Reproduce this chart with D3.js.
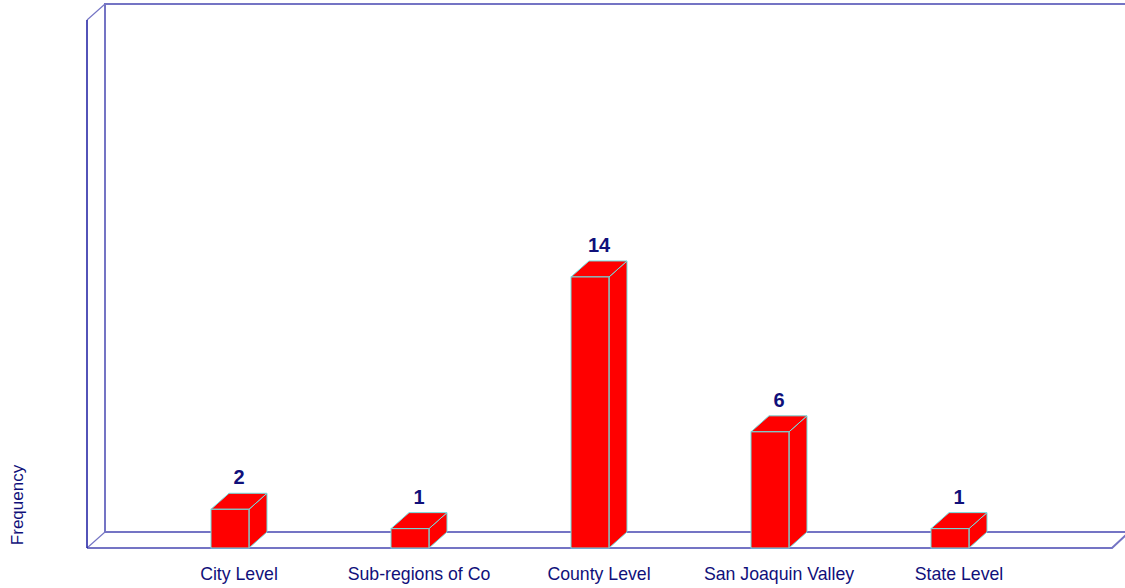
<!DOCTYPE html>
<html><head><meta charset="utf-8">
<script src="https://d3js.org/d3.v7.min.js"></script>
<style>body{margin:0;background:#fff}svg{display:block}</style>
</head><body><svg id="c" width="1125" height="588"></svg>
<script>
const categories = ["City Level","Sub-regions of Co","County Level","San Joaquin Valley","State Level"];
const values = [2,1,14,6,1];
const yLabel = "Frequency";

const svg = d3.select("#c");
const W = 1125, H = 588;
const dx = 18, dy = 16;
const y0 = 548;
const x = d3.scaleBand().domain(categories).range([140,1040]).paddingInner(0).paddingOuter(0);
const y = d3.scaleLinear().domain([0,28]).range([y0, y0 - 28*19.36]);
const bw = 38;
const frameCol = "#7474c4";
const navy = "#10107a";

svg.append("rect").attr("width",W).attr("height",H).attr("fill","#fff");
const g = svg.append("g").attr("fill","none");
g.append("path").attr("d",`M105,532 L105,4 L1130,4`).attr("stroke",frameCol).attr("stroke-width",2);
g.append("path").attr("d",`M105,532 L1130,532`).attr("stroke",frameCol).attr("stroke-width",2);
g.append("path").attr("d",`M87,548 L1112,548 L1127,534`).attr("stroke",frameCol).attr("stroke-width",2);
g.append("path").attr("d",`M87,548 L105,532`).attr("stroke",frameCol).attr("stroke-width",1.2);
g.append("path").attr("d",`M87,20 L105,4`).attr("stroke",frameCol).attr("stroke-width",1.2);
g.append("path").attr("d",`M87,20 L87,548`).attr("stroke","#1a1aa0").attr("stroke-width",1.5);

const bars = svg.append("g").selectAll("g").data(categories).join("g");
bars.each(function(c,i){
  const gb = d3.select(this);
  const cx = x(c) + x.bandwidth()/2;
  const x1 = cx - bw/2, x2 = cx + bw/2;
  const yt = y(values[i]), yb = y(0);
  gb.append("path").attr("d",`M${x2},${yb} L${x2+dx},${yb-dy} L${x2+dx},${yt-dy} L${x2},${yt} Z`)
    .attr("fill","#ff0000").attr("stroke","#6fe0e0").attr("stroke-width",1);
  gb.append("path").attr("d",`M${x1},${yt} L${x1+dx},${yt-dy} L${x2+dx},${yt-dy} L${x2},${yt} Z`)
    .attr("fill","#ff0000").attr("stroke","#6fe0e0").attr("stroke-width",1);
  gb.append("rect").attr("x",x1).attr("y",yt).attr("width",bw).attr("height",yb-yt)
    .attr("fill","#ff0000").attr("stroke","#6fe0e0").attr("stroke-width",1);
  gb.append("line").attr("x1",x2).attr("x2",x2).attr("y1",yt).attr("y2",yb).attr("stroke","#a0a0a0").attr("stroke-width",1);
  gb.append("text").attr("x",cx+dx/2).attr("y",yt-dy-9).attr("text-anchor","middle")
    .attr("font-family","Liberation Sans, Arial, sans-serif").attr("font-weight","bold").attr("font-size",20)
    .attr("fill",navy).text(values[i]);
  gb.append("text").attr("x",cx+dx/2).attr("y",580).attr("text-anchor","middle")
    .attr("font-family","Liberation Sans, Arial, sans-serif").attr("font-size",17.7)
    .attr("fill",navy).text(c);
});

svg.append("text").attr("transform","translate(23,505) rotate(-90)").attr("text-anchor","middle")
  .attr("font-family","Liberation Sans, Arial, sans-serif").attr("font-size",17).attr("fill",navy).text(yLabel);
</script></body></html>
